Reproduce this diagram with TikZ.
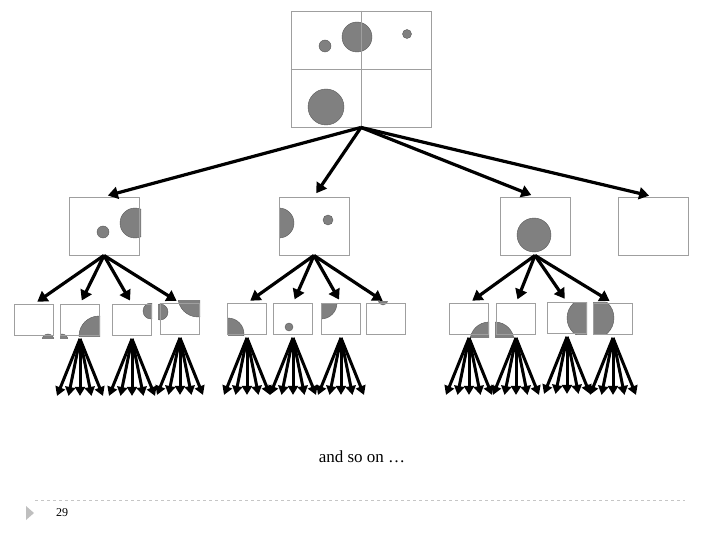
\documentclass[tikz,border=0pt]{standalone}
\usepackage{fontspec}
\setmainfont{Liberation Serif}
\usetikzlibrary{arrows.meta}
\begin{document}
\begin{tikzpicture}[x=1pt, y=-1pt]
      \tikzset{
	  rootbox/.style={rectangle, draw=gray!75, line width=0.9pt, minimum width=140pt, minimum height=116pt, inner sep=0pt},
	  midbox/.style={rectangle, draw=gray!75, line width=0.9pt, minimum width=70pt, minimum height=58pt, inner sep=0pt},
	  leafbox/.style={rectangle, draw=gray!75, line width=0.9pt, minimum width=39pt, minimum height=31pt, inner sep=0pt},
	  blob/.style={fill=gray, draw=gray!70!black, line width=0.4pt},
	  split/.style={-{Triangle[length=10pt,width=12pt]}, line width=3.2pt, shorten >=4pt},
	  fan/.style={-{Triangle[length=9pt,width=10pt]}, line width=3pt}
      }
      \useasboundingbox (0,0) rectangle (720,540);

      % clipped disc: box corners, centre, radius
      \def\piece#1#2#3#4{\begin{scope}\clip #1 rectangle #2; \filldraw[blob] #3 circle (#4);\end{scope}}

      % root square
      \piece{(291,11)}{(431,127)}{(325,46)}{6}
      \piece{(291,11)}{(431,127)}{(357,37)}{15}
      \piece{(291,11)}{(431,127)}{(407,34)}{4.5}
      \piece{(291,11)}{(431,127)}{(326,107)}{18}
      \node[rootbox] (root) at (361,69) {};
      \draw[gray!75, line width=0.9pt] (root.north) -- (root.south) (root.west) -- (root.east);

      % second level
      \piece{(69,197)}{(141,255)}{(103,232)}{6}
      \piece{(69,197)}{(141,255)}{(135,223)}{15}
      \piece{(279,197)}{(349,255)}{(279,223)}{15}
      \piece{(279,197)}{(349,255)}{(328,220)}{5}
      \piece{(500,197)}{(570,255)}{(534,235)}{17}
      \node[midbox] (m1) at (104,226) {};
      \node[midbox] (m2) at (314,226) {};
      \node[midbox] (m3) at (535,226) {};
      \node[midbox] (m4) at (653,226) {};

      % third level
      \piece{(14,303)}{(54,338)}{(48,340)}{6}
      \piece{(60,303)}{(101,338)}{(62,340)}{6}
      \piece{(60,303)}{(100,336)}{(99,336)}{20}
      \piece{(112,303)}{(152,336)}{(151,311)}{8}
      \piece{(158,303)}{(200,336)}{(160,312)}{8}
      \piece{(158,300)}{(200,336)}{(198,297)}{20}
      \piece{(228,303)}{(267,335)}{(228,334)}{16}
      \piece{(273,303)}{(313,335)}{(289,327)}{4}
      \piece{(321,303)}{(361,335)}{(321,303)}{16}
      \piece{(366,301)}{(406,335)}{(383,300)}{5}
      \piece{(449,303)}{(489,337)}{(489,341)}{19}
      \piece{(495,303)}{(536,337)}{(495,341)}{19}
      \piece{(547,302)}{(587,334)}{(587,318)}{20}
      \piece{(593,302)}{(633,334)}{(593,318)}{21}
      \node[leafbox] (a) at (34,320) {};
      \node[leafbox] (b) at (80,320) {};
      \node[leafbox] (c) at (132,320) {};
      \node[leafbox] (d) at (180,319) {};
      \node[leafbox] (e) at (247,319) {};
      \node[leafbox] (f) at (293,319) {};
      \node[leafbox] (g) at (341,319) {};
      \node[leafbox] (h) at (386,319) {};
      \node[leafbox] (i) at (469,319) {};
      \node[leafbox] (j) at (516,319) {};
      \node[leafbox] (k) at (567,318) {};
      \node[leafbox] (l) at (613,319) {};

      % splits
      \foreach \m in {m1,m2,m3,m4}
        \draw[split] (root.south) -- (\m.north);
      \foreach \m/\kids in {m1/{a,b,c,d}, m2/{e,f,g,h}, m3/{i,j,k,l}}
        \foreach \k in \kids
          \draw[split] (\m.south) -- (\k.north);

      % and further down
      \foreach \leaf in {b,c,d,e,f,g,i,j,k,l}{
        \foreach \dx [count=\n] in {-23,-11.5,0,11.5,23}{
          \coordinate (\leaf-end\n) at ([shift={(\dx,60)}]\leaf.south);
          \draw[fan] ([yshift=-3pt]\leaf.south) -- (\leaf-end\n);
        }
      }

      \node (more) at (362,457) {\fontsize{17}{20}\selectfont and so on \ldots};

      % footer
      \draw[gray!45, dashed, line width=0.6pt] (35,500) -- (685,500);
      \fill[gray!50] (26,506) -- (34,513) -- (26,520) -- cycle;
      \node (page) at (62,513) {\fontsize{12}{14}\selectfont 29};
\end{tikzpicture}
\end{document}
